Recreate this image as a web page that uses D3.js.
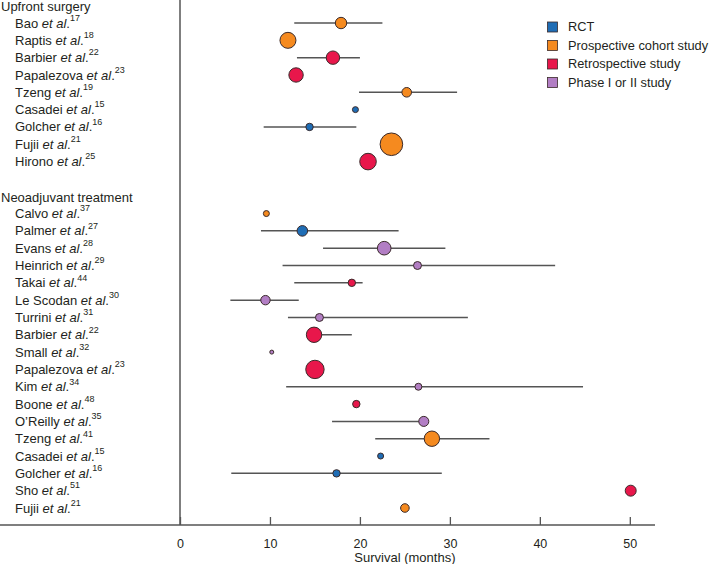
<!DOCTYPE html>
<html>
<head>
<meta charset="utf-8">
<script src="https://cdn.jsdelivr.net/npm/d3@7"></script>
<style>
  html, body { margin: 0; padding: 0; background: #fff; }
  svg { display: block; font-family: "Liberation Sans", Arial, Helvetica, sans-serif; }
</style>
</head>
<body>
<svg id="chart" width="709" height="564"></svg>
<script>
// ---------------- DATA ----------------
const groups = ["Upfront surgery", "Neoadjuvant treatment"];

const upfrontAuthors = ["Bao", "Raptis", "Barbier", "Papalezova", "Tzeng", "Casadei", "Golcher", "Fujii", "Hirono"];
const upfrontRefs    = ["17", "18", "22", "23", "19", "15", "16", "21", "25"];
const upfrontType    = ["Prospective", "Prospective", "Retrospective", "Retrospective", "Prospective", "RCT", "RCT", "Prospective", "Retrospective"];
const upfrontMedian  = [17.9, 12.0, 17.0, 12.9, 25.2, 19.5, 14.4, 23.5, 20.9];
const upfrontLow     = [12.7, null, 13.0, null, 19.9, null, 9.3, null, null];
const upfrontHigh    = [22.5, null, 20.0, null, 30.8, null, 19.6, null, null];
const upfrontN       = [123, 242, 170, 196, 87, 34, 52, 483, 260];

const neoAuthors = ["Calvo", "Palmer", "Evans", "Heinrich", "Takai", "Le Scodan", "Turrini", "Barbier", "Small", "Papalezova", "Kim", "Boone", "O\u2019Reilly", "Tzeng", "Casadei", "Golcher", "Sho", "Fujii"];
const neoRefs    = ["37", "27", "28", "29", "44", "30", "31", "22", "32", "23", "34", "48", "35", "41", "15", "16", "51", "21"];
const neoType    = ["Prospective", "RCT", "Phase", "Phase", "Retrospective", "Phase", "Phase", "Retrospective", "Phase", "Retrospective", "Phase", "Retrospective", "Phase", "Prospective", "RCT", "RCT", "Retrospective", "Prospective"];
const neoMedian  = [9.6, 13.6, 22.7, 26.4, 19.1, 9.5, 15.5, 14.9, 10.2, 15.0, 26.5, 19.6, 27.1, 28.0, 22.3, 17.4, 50.1, 25.0];
const neoLow     = [null, 9.0, 15.9, 11.4, 12.7, 5.6, 12.0, 14.5, null, null, 11.8, null, 16.9, 21.7, null, 5.7, null, null];
const neoHigh    = [null, 24.3, 29.5, 41.7, 20.3, 13.2, 32.0, 19.1, null, null, 44.8, null, 27.1, 34.4, null, 29.1, null, null];
const neoN       = [34, 106, 175, 60, 52, 84, 60, 224, 15, 320, 46, 52, 95, 224, 34, 52, 114, 70];

const studyTypes  = ["RCT", "Prospective", "Retrospective", "Phase"];
const legendLabels = ["RCT", "Prospective cohort study", "Retrospective study", "Phase I or II study"];
const typeColors  = ["#1f6db5", "#f58a1f", "#e8174b", "#b27ec4"];

const xTicks = [0, 10, 20, 30, 40, 50];
const xTitle = "Survival (months)";

// ---------------- BUILD ROWS ----------------
const rows = [];
rows.push({ header: groups[0] });
upfrontAuthors.forEach((a, i) => rows.push({ author: a, ref: upfrontRefs[i], type: upfrontType[i], median: upfrontMedian[i], low: upfrontLow[i], high: upfrontHigh[i], n: upfrontN[i] }));
rows.push({ blank: true });
rows.push({ header: groups[1] });
neoAuthors.forEach((a, i) => rows.push({ author: a, ref: neoRefs[i], type: neoType[i], median: neoMedian[i], low: neoLow[i], high: neoHigh[i], n: neoN[i] }));

// ---------------- SCALES ----------------
const svg = d3.select("#chart");
const axisY = 525;
const x = d3.scaleLinear().domain([0, 52.8]).range([180, 655]);
const y = d3.scalePoint().domain(d3.range(rows.length)).range([5.7, 508]);
const r = d3.scaleSqrt().domain([0, 500]).range([0, 11.5]);
const color = d3.scaleOrdinal().domain(studyTypes).range(typeColors);

const textColor = "#231f20";
const lineColor = "#555";

// ---------------- AXES ----------------
svg.append("line")
  .attr("x1", x(0)).attr("x2", x(0))
  .attr("y1", 0).attr("y2", axisY)
  .attr("stroke", lineColor).attr("stroke-width", 1.5);

const xAxis = d3.axisBottom(x).tickValues(xTicks).tickSize(-8).tickPadding(14).tickFormat(d3.format("d"));
const gx = svg.append("g").attr("transform", `translate(0,${axisY})`).call(xAxis);
gx.select(".domain").remove();
gx.selectAll(".tick line").attr("stroke", lineColor).attr("stroke-width", 1.3);
gx.selectAll(".tick text").attr("fill", textColor).attr("font-size", 12.5)
  .attr("font-family", "'Liberation Sans', Arial, sans-serif");
svg.append("line")
  .attr("x1", 0).attr("x2", x(52.8))
  .attr("y1", axisY).attr("y2", axisY)
  .attr("stroke", lineColor).attr("stroke-width", 1.5);

svg.append("text")
  .attr("x", x(25)).attr("y", 557)
  .attr("dy", "0.35em")
  .attr("text-anchor", "middle")
  .attr("font-size", 13)
  .attr("fill", textColor)
  .text(xTitle);

// ---------------- LABELS ----------------
const labelG = svg.append("g");
rows.forEach((d, i) => {
  if (d.header) {
    labelG.append("text")
      .attr("x", 1).attr("y", y(i) + 1)
      .attr("dy", "0.35em")
      .attr("font-size", 13).attr("fill", textColor)
      .text(d.header);
  } else if (d.author) {
    const t = labelG.append("text")
      .attr("x", 15).attr("y", y(i))
      .attr("dy", "0.35em")
      .attr("font-size", 13).attr("fill", textColor);
    t.append("tspan").text(d.author + " ");
    t.append("tspan").attr("font-style", "italic").text("et al");
    t.append("tspan").text(".");
    t.append("tspan").attr("font-size", 9).attr("dy", "-0.75em").text(d.ref);
  }
});

// ---------------- WHISKERS ----------------
const dataRows = rows.map((d, i) => Object.assign({ idx: i }, d)).filter(d => d.author);
svg.append("g").selectAll("line")
  .data(dataRows.filter(d => d.low != null && d.high != null))
  .join("line")
  .attr("x1", d => x(d.low)).attr("x2", d => x(d.high))
  .attr("y1", d => y(d.idx)).attr("y2", d => y(d.idx))
  .attr("stroke", lineColor).attr("stroke-width", 1.5);

// ---------------- POINTS ----------------
svg.append("g").selectAll("circle")
  .data(dataRows)
  .join("circle")
  .attr("cx", d => x(d.median))
  .attr("cy", d => y(d.idx))
  .attr("r", d => r(d.n))
  .attr("fill", d => color(d.type))
  .attr("stroke", "#3a2a2a")
  .attr("stroke-width", 1);

// ---------------- LEGEND ----------------
const legend = svg.append("g");
studyTypes.forEach((t, i) => {
  const ly = 27 + i * 18.5;
  legend.append("rect")
    .attr("x", 547.5).attr("y", ly - 5)
    .attr("width", 10).attr("height", 10)
    .attr("fill", color(t))
    .attr("stroke", "#3a2a2a").attr("stroke-width", 0.8);
  legend.append("text")
    .attr("x", 568).attr("y", ly)
    .attr("dy", "0.35em")
    .attr("font-size", 12.8).attr("fill", textColor)
    .text(legendLabels[i]);
});
</script>
</body>
</html>
